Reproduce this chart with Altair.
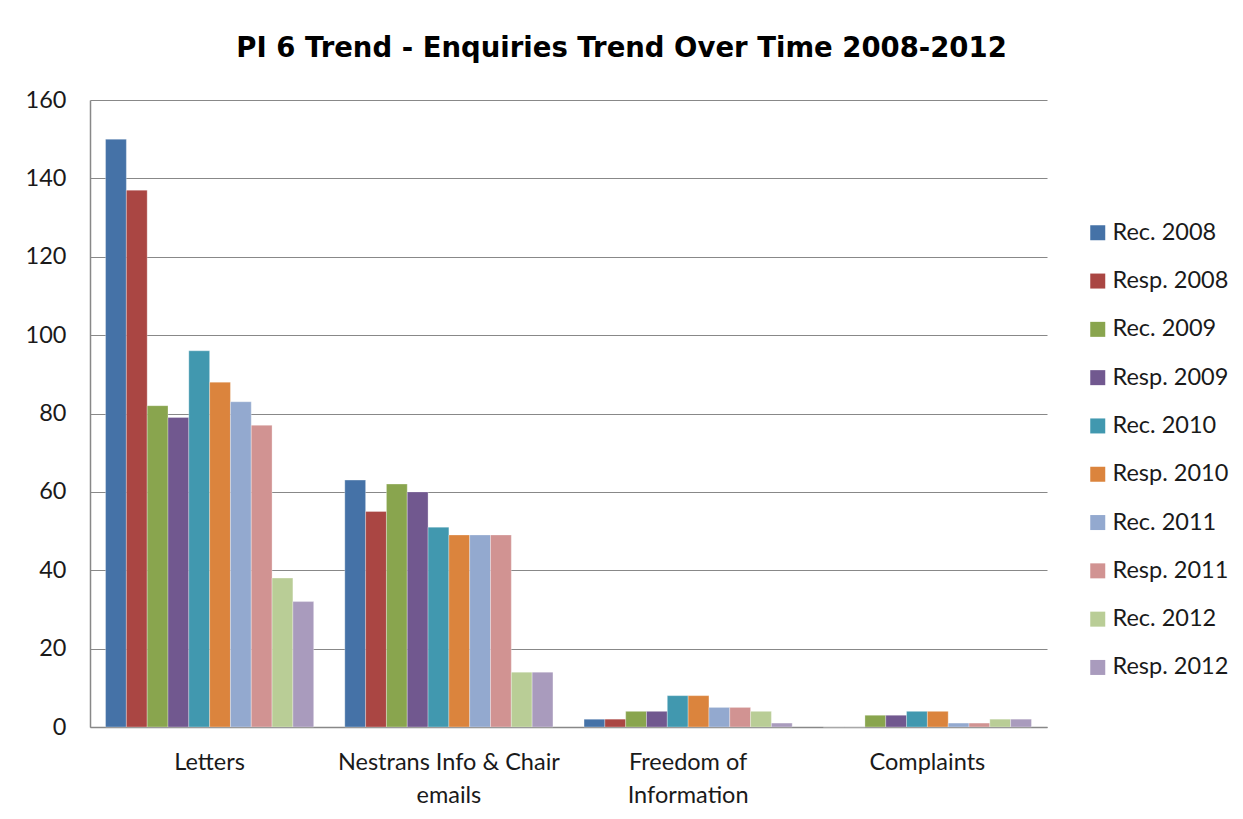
import altair as alt
import pandas as pd

categories = ["Letters", "Nestrans Info & Chair\nemails", "Freedom of\nInformation", "Complaints"]
series = ["Rec. 2008", "Resp. 2008", "Rec. 2009", "Resp. 2009", "Rec. 2010",
          "Resp. 2010", "Rec. 2011", "Resp. 2011", "Rec. 2012", "Resp. 2012"]
colors = ["#4572A7", "#AA4643", "#89A54E", "#71588F", "#4198AF",
          "#DB843D", "#93A9CF", "#D19392", "#B9CD96", "#A99BBD"]

letters = [150, 137, 82, 79, 96, 88, 83, 77, 38, 32]
nestrans = [63, 55, 62, 60, 51, 49, 49, 49, 14, 14]
foi = [2, 2, 4, 4, 8, 8, 5, 5, 4, 1]
complaints = [0, 0, 3, 3, 4, 4, 1, 1, 2, 2]

rows = []
for cat, vals in zip(categories, [letters, nestrans, foi, complaints]):
    for s, v in zip(series, vals):
        rows.append({"category": cat, "series": s, "value": v})
df = pd.DataFrame(rows)

FONT = "Lato"
FS = 23.5

bars = alt.Chart(df).mark_bar(strokeWidth=0.6, strokeOpacity=0.5, stroke="white").encode(
    x=alt.X("category:N", sort=categories,
            scale=alt.Scale(paddingInner=0.13, paddingOuter=0.065),
            axis=alt.Axis(title=None, labelAngle=0, ticks=False, domainColor="#888888",
                          domainWidth=1.5, labelFontSize=FS, labelFont=FONT, labelLimit=0,
                          labelColor="#1a1a1a", labelPadding=23, labelLineHeight=33,
                          labelExpr="split(datum.label, '\\n')", labelBaseline="top")),
    xOffset=alt.XOffset("series:N", sort=series),
    y=alt.Y("value:Q", scale=alt.Scale(domain=[0, 160]),
            axis=alt.Axis(title=None, values=list(range(0, 161, 20)), ticks=False,
                          domainColor="#888888", domainWidth=1.5, gridColor="#888888",
                          gridWidth=1.2, labelFontSize=FS, labelFont=FONT,
                          labelColor="#1a1a1a", labelPadding=24)),
    color=alt.Color("series:N", sort=series,
                    scale=alt.Scale(domain=series, range=colors),
                    legend=alt.Legend(title=None, orient="none", legendX=996, legendY=121,
                                      symbolType="square", symbolSize=225, symbolStrokeWidth=0,
                                      labelFontSize=FS, labelFont=FONT, labelColor="#1a1a1a",
                                      rowPadding=23.3, labelOffset=3, labelLimit=0)),
)

chart = bars.properties(
    width=957, height=627,
    title=alt.TitleParams("PI 6 Trend - Enquiries Trend Over Time 2008-2012",
                          font="DejaVu Sans", fontSize=27.5, fontWeight="bold",
                          color="#000000", anchor="middle", dx=53, offset=26),
    autosize=alt.AutoSizeParams(type="none"),
    padding={"left": 82, "top": 92, "right": 186, "bottom": 80},
).configure_view(stroke=None)

chart.save("out.html", embed_options={"renderer": "svg", "actions": False})
